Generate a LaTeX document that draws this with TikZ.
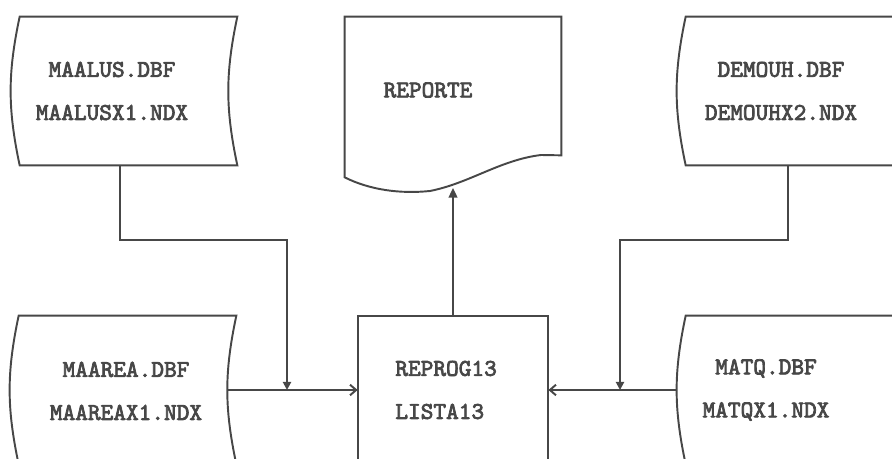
\documentclass[tikz,border=0pt]{standalone}
\usepackage{fontspec}
\newfontfamily\dotfont[FakeBold=3]{lmmono10-regular.otf}
\usetikzlibrary{arrows.meta}

\begin{document}
\begin{tikzpicture}[x=0.02cm, y=-0.02cm,
  line/.style={draw=black!72, line width=1.1pt},
  box/.style={minimum width=4.34cm, minimum height=2.96cm, inner sep=0pt},
  txt/.style={text=black!72, font={\dotfont\fontsize{13.75}{24.5}\selectfont}, align=center, inner sep=0pt}]
  \clip (0,0) rectangle (892,459);
  \node[box] (maalus) at (128.5,91) {};
  \node[box] (demouh) at (794.5,91) {};
  \node[box] (maarea) at (127.5,390) {};
  \node[box] (matq) at (794.5,390) {};
  \node[box, minimum width=3.8cm] (reprog) at (453,390) {};
  \node[box, minimum width=4.32cm, minimum height=3.2cm] (reporte) at (453,97) {};
  \draw[line] (maalus.north west) -- (maalus.north east) to[bend right=12] (maalus.south east) -- (maalus.south west) to[bend left=12] (maalus.north west) -- cycle;
  \draw[line] (demouh.north west) -- (demouh.north east) to[bend right=12] (demouh.south east) -- (demouh.south west) to[bend left=12] (demouh.north west) -- cycle;
  \draw[line] (maarea.north west) -- (maarea.north east) to[bend right=12] (maarea.south east) -- (maarea.south west) to[bend left=12] (maarea.north west) -- cycle;
  \draw[line] (matq.north west) -- (matq.north east) to[bend right=12] (matq.south east) -- (matq.south west) to[bend left=12] (matq.north west) -- cycle;
  \draw[line] (reprog.south west) rectangle (reprog.north east);
  \draw[line] (reporte.south west) -- (reporte.north west) -- (reporte.north east) -- ([yshift=0.44cm]reporte.south east) -- (541,155)
    .. controls (500,160) and (470,183) .. (430,191) .. controls (400,194) and (370,190) .. (reporte.south west) -- cycle;
  \node[txt] (maalus-t) at (112,91) {MAALUS.DBF\\MAALUSX1.NDX};
  \node[txt] (demouh-t) at (781,91) {DEMOUH.DBF\\DEMOUHX2.NDX};
  \node[txt] (maarea-t) at (126,391) {MAAREA.DBF\\MAAREAX1.NDX};
  \node[txt] (matq-t) at (766,390) {MATQ.DBF\\MATQX1.NDX};
  \node[txt, align=left, anchor=west] (reprog-t) at (395,390) {REPROG13\\LISTA13};
  \node[txt] (reporte-t) at (428,90) {REPORTE};
  \coordinate (j1) at (287,240);
  \coordinate (j2) at (620,240);
  \coordinate (rep-in) at (453,188);
  \draw[line, -{Triangle[width=4.6pt,length=4.6pt]}] ([xshift=-0.17cm]maalus.south) |- (j1) -- (j1 |- maarea.east);
  \draw[line, -{Triangle[width=4.6pt,length=4.6pt]}] ([xshift=-0.13cm]demouh.south) |- (j2) -- (j2 |- matq.west);
  \draw[line, -{Straight Barb[width=6pt,length=3.5pt]}] ([xshift=-0.18cm]maarea.east) -- (reprog.west);
  \draw[line, -{Straight Barb[width=6pt,length=3.5pt]}] ([xshift=-0.18cm]matq.west) -- (reprog.east);
  \draw[line, -{Triangle[width=5pt,length=5.5pt]}] (reprog.north) -- (rep-in);
\end{tikzpicture}
\end{document}
